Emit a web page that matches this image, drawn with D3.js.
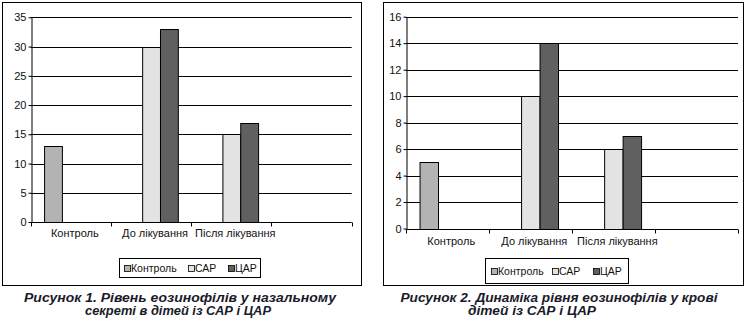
<!DOCTYPE html>
<html>
<head>
<meta charset="utf-8">
<script src="https://cdn.jsdelivr.net/npm/d3@7"></script>
<style>
  html, body { margin: 0; padding: 0; background: #fff; }
  svg { display: block; }
</style>
</head>
<body>
<svg id="fig" width="744" height="323"></svg>
<script>
// Categories along the x axis and the three groups of children
const categories = ["Контроль", "До лікування", "Після лікування"];
const seriesNames = ["Контроль", "САР", "ЦАР"];
const seriesColors = ["#b3b3b3", "#e3e3e3", "#606060"];

// Figure 1: eosinophils in nasal secretion
const nasalControl = [13, null, null];
const nasalSAR = [null, 30, 15];
const nasalCAR = [null, 33, 17];
const nasalTicks = [0, 5, 10, 15, 20, 25, 30, 35];

// Figure 2: eosinophils in blood
const bloodControl = [5, null, null];
const bloodSAR = [null, 10, 6];
const bloodCAR = [null, 14, 7];
const bloodTicks = [0, 2, 4, 6, 8, 10, 12, 14, 16];

const captions1 = ["Рисунок 1. Рівень еозинофілів у назальному", "секреті в дітей із САР і ЦАР"];
const captions2 = ["Рисунок 2. Динаміка рівня еозинофілів у крові", "дітей із САР і ЦАР"];

const svg = d3.select("#fig");
const font = "'Liberation Sans', Arial, sans-serif";

function drawChart(cfg) {
  const g = svg.append("g");
  const series = [cfg.control, cfg.sar, cfg.car];

  // outer frame
  g.append("rect")
    .attr("x", cfg.box[0] + 0.5).attr("y", cfg.box[1] + 0.5)
    .attr("width", cfg.box[2] - cfg.box[0]).attr("height", cfg.box[3] - cfg.box[1])
    .attr("fill", "#fff").attr("stroke", "#000").attr("stroke-width", 1);

  // four slots on the axis; the last one stays empty
  const x = d3.scaleBand().domain(d3.range(categories.length + 1))
    .range([cfg.left, cfg.right]).paddingInner(0).paddingOuter(0);
  const y = d3.scaleLinear().domain([0, d3.max(cfg.ticks)]).range([cfg.bottom, cfg.top]);

  const bw = x.bandwidth() / 4.5;
  const groupOffset = bw * 0.75;

  // horizontal gridlines
  g.append("g").selectAll("line").data(cfg.ticks.filter(t => t > 0)).join("line")
    .attr("x1", cfg.left).attr("x2", cfg.right)
    .attr("y1", d => Math.round(y(d)) + 0.5).attr("y2", d => Math.round(y(d)) + 0.5)
    .attr("stroke", "#000").attr("stroke-width", 1);

  // bars
  series.forEach((vals, si) => {
    g.append("g").selectAll("rect").data(vals.map((v, ci) => ({v, ci})).filter(d => d.v != null))
      .join("rect")
      .attr("x", d => x(d.ci) + groupOffset + si * bw + 0.5)
      .attr("y", d => Math.round(y(d.v)) + 0.5)
      .attr("width", bw)
      .attr("height", d => Math.round(y(0)) - Math.round(y(d.v)))
      .attr("fill", seriesColors[si]).attr("stroke", "#000").attr("stroke-width", 1);
  });

  // y axis
  const yAxis = d3.axisLeft(y).tickValues(cfg.ticks).tickSize(3).tickSizeOuter(0);
  const ya = g.append("g").attr("transform", `translate(${Math.round(cfg.left) + 0.5},0)`).call(yAxis);
  ya.select(".domain").attr("stroke", "#000");
  ya.selectAll(".tick line").attr("stroke", "#000");
  ya.selectAll(".tick text").attr("font-family", font).attr("font-size", 11).attr("fill", "#111").attr("x", -5);

  // x axis with ticks between categories
  const xa = g.append("g").attr("transform", `translate(0,${Math.round(y(0)) + 0.5})`);
  xa.append("line").attr("x1", cfg.left).attr("x2", cfg.right).attr("stroke", "#000");
  xa.selectAll("line.t").data(d3.range(categories.length + 2)).join("line").attr("class", "t")
    .attr("x1", i => Math.round(cfg.left + i * x.bandwidth()) + 0.5)
    .attr("x2", i => Math.round(cfg.left + i * x.bandwidth()) + 0.5)
    .attr("y1", 0).attr("y2", 4).attr("stroke", "#000");
  g.append("g").selectAll("text").data(categories).join("text")
    .attr("x", (d, i) => x(i) + x.bandwidth() / 2 + 4)
    .attr("y", cfg.labelY)
    .attr("text-anchor", "middle")
    .attr("font-family", font).attr("font-size", 11).attr("fill", "#111")
    .text(d => d);

  // legend
  const lg = g.append("g");
  lg.append("rect")
    .attr("x", cfg.legend.x0 + 0.5).attr("y", cfg.legend.y0 + 0.5)
    .attr("width", cfg.legend.x1 - cfg.legend.x0).attr("height", cfg.legend.y1 - cfg.legend.y0)
    .attr("fill", "#fff").attr("stroke", "#000");
  seriesNames.forEach((name, i) => {
    const sx = cfg.legend.items[i];
    lg.append("rect").attr("x", sx + 0.5).attr("y", cfg.legend.cy - 3 + 0.5)
      .attr("width", 6).attr("height", 6)
      .attr("fill", seriesColors[i]).attr("stroke", "#000").attr("stroke-width", 0.8);
    lg.append("text").attr("x", sx + 7).attr("y", cfg.legend.cy + 4)
      .attr("font-family", font).attr("font-size", 10.5).attr("fill", "#111").text(name);
  });

  // caption, two lines
  g.append("g").selectAll("text").data(cfg.caption).join("text")
    .attr("x", (d, i) => cfg.captionX[i])
    .attr("y", (d, i) => 302 + i * 12.5)
    .attr("text-anchor", "middle")
    .attr("textLength", (d, i) => cfg.captionW[i])
    .attr("lengthAdjust", "spacingAndGlyphs")
    .attr("font-family", font).attr("font-size", 12.2).attr("font-weight", "bold").attr("font-style", "italic")
    .attr("fill", "#1a1a2a")
    .text(d => d);
}

drawChart({
  box: [2, 2, 361, 285],
  left: 30.7, right: 351.7, top: 17.3, bottom: 222,
  ticks: nasalTicks,
  control: nasalControl, sar: nasalSAR, car: nasalCAR,
  labelY: 237,
  legend: {x0: 119, x1: 260, y0: 258, y1: 277, cy: 268, items: [124, 188, 228]},
  caption: captions1, captionX: [180, 178], captionW: [312, 186]
});

drawChart({
  box: [383, 2, 743, 285],
  left: 405.7, right: 738, top: 16.7, bottom: 228.5,
  ticks: bloodTicks,
  control: bloodControl, sar: bloodSAR, car: bloodCAR,
  labelY: 245,
  legend: {x0: 485, x1: 628, y0: 258, y1: 283, cy: 271, items: [491, 552, 593]},
  caption: captions2, captionX: [559, 532], captionW: [317, 128]
});
</script>
</body>
</html>
